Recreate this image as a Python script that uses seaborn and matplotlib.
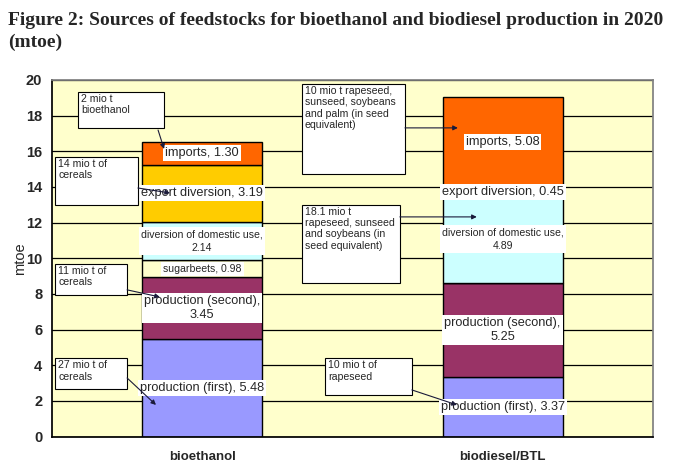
import matplotlib
matplotlib.use("Agg")
import matplotlib.pyplot as plt
import seaborn as sns
import numpy as np
from matplotlib.patches import Rectangle

# --- data (mtoe) ---
fuels = ["bioethanol", "biodiesel/BTL"]
segments = ["production (first)", "production (second)", "sugarbeets",
            "diversion of domestic use", "export diversion", "imports"]
bioethanol_vals = [5.48, 3.45, 0.98, 2.14, 3.19, 1.30]
biodiesel_vals = [3.37, 5.25, 0.0, 4.89, 0.45, 5.08]
seg_colors = ["#9999FF", "#993366", "#FFFFCC", "#CCFFFF", "#FFCC00", "#FF6600"]

notes = ["2 mio t\nbioethanol", "14 mio t of\ncereals", "11 mio t of\ncereals",
         "27 mio t of\ncereals",
         "10 mio t rapeseed,\nsunseed, soybeans\nand palm (in seed\nequivalent)",
         "18.1 mio t\nrapeseed, sunseed\nand soybeans (in\nseed equivalent)",
         "10 mio t of\nrapeseed"]

sns.set_theme(style="white")
plt.rcParams["font.family"] = ["Liberation Sans", "DejaVu Sans"]

fig = plt.figure(figsize=(6.73, 4.70), dpi=100)
ax = fig.add_axes([0.0773, 0.0709, 0.8927, 0.7591])
ax.set_facecolor("#FFFFCC")

vals = np.array([bioethanol_vals, biodiesel_vals])
bottoms = np.zeros(2)
for i, seg in enumerate(segments):
    sns.barplot(x=fuels, y=vals[:, i], bottom=bottoms.copy(), color=seg_colors[i],
                width=0.4, edgecolor="black", linewidth=1, errorbar=None,
                saturation=1, ax=ax, zorder=2)
    bottoms += vals[:, i]

# labels in the middle of each segment
big = {"production (first)", "production (second)", "export diversion", "imports"}
wrap = {("bioethanol", "production (second)"), ("bioethanol", "diversion of domestic use"),
        ("biodiesel/BTL", "production (second)"), ("biodiesel/BTL", "diversion of domestic use")}
for j, fuel in enumerate(fuels):
    base = 0.0
    for i, seg in enumerate(segments):
        v = vals[j, i]
        if v > 0:
            sep = ",\n" if (fuel, seg) in wrap else ", "
            ax.text(j, base + v / 2, f"{seg}{sep}{v:.2f}", ha="center", va="center",
                    fontsize=9.2 if seg in big else 7.6,
                    linespacing=1.25 if seg in big else 1.45, zorder=4,
                    bbox=dict(facecolor="white", edgecolor="none", pad=1.5))
        base += v

# note boxes: (x0, x1, y_top, y_bottom), arrow tail, arrow head
boxes = [(-0.413, -0.127, 19.32, 17.31), (-0.490, -0.214, 15.68, 12.99),
         (-0.490, -0.250, 9.68, 7.95), (-0.490, -0.250, 4.40, 2.67),
         (0.332, 0.675, 19.77, 14.72), (0.332, 0.658, 12.99, 8.61),
         (0.408, 0.698, 4.40, 2.33)]
arrows = [((-0.147, 17.19), (-0.127, 16.13)), ((-0.214, 13.94), (-0.107, 13.66)),
          ((-0.250, 8.23), (-0.141, 7.83)), ((-0.250, 3.29), (-0.154, 1.78)),
          ((0.675, 17.31), (0.851, 17.31)), ((0.658, 12.32), (0.914, 12.32)),
          ((0.698, 2.62), (0.848, 1.78))]
for note, (x0, x1, yt, yb), (tail, head) in zip(notes, boxes, arrows):
    ax.add_patch(Rectangle((x0, yb), x1 - x0, yt - yb, facecolor="white",
                           edgecolor="black", linewidth=0.8, zorder=5))
    ax.text(x0 + 0.01, yt - 0.12, note, ha="left", va="top", fontsize=7.6,
            linespacing=1.15, zorder=6)
    ax.annotate("", xy=head, xytext=tail, zorder=6,
                arrowprops=dict(arrowstyle="-|>", color="#1a1a3a", lw=0.8,
                                mutation_scale=7, shrinkA=0, shrinkB=0))

ax.set_xlim(-0.5, 1.5)
ax.set_ylim(0, 20)
ax.set_yticks(range(0, 21, 2))
ax.yaxis.grid(True, color="black", linewidth=0.9, zorder=0)
ax.set_axisbelow(True)
ax.set_xticks([0, 1])
ax.set_xticklabels(fuels, fontweight="bold", fontsize=9.5)
ax.set_xticks([0.5, 1.5], minor=True)
ax.tick_params(axis="x", which="major", length=0, pad=10)
ax.tick_params(axis="x", which="minor", length=5, color="black", direction="out")
ax.tick_params(axis="y", length=5, color="black", direction="out", labelsize=10.5, pad=2)
for t in ax.get_yticklabels():
    t.set_fontweight("bold")
ax.set_xlabel("")
ax.set_ylabel("mtoe", fontsize=10.5, labelpad=-1)
ax.spines["left"].set_color("black")
ax.spines["bottom"].set_color("black")
ax.spines["top"].set_color("#808080")
ax.spines["right"].set_color("#808080")

title_kw = dict(fontweight="bold", fontsize=14, family=["Liberation Serif", "DejaVu Serif"])
fig.text(0.012, 0.957, "Figure 2: Sources of feedstocks for bioethanol and biodiesel production in 2020",
         va="center", ha="left", **title_kw)
fig.text(0.012, 0.910, "(mtoe)", va="center", ha="left", **title_kw)

fig.savefig("out.png", dpi=100)
